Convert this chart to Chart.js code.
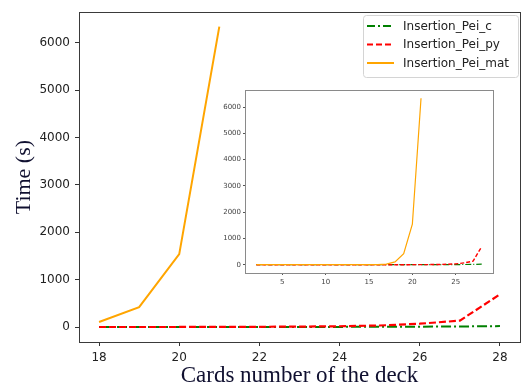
<!DOCTYPE html>
<html>
<head>
<meta charset="utf-8">
<script src="https://cdn.jsdelivr.net/npm/chart.js@4/dist/chart.umd.min.js"></script>
<style>
  html, body { margin: 0; padding: 0; background: #fff; }
  #wrap { position: relative; width: 521px; height: 387px; overflow: hidden; }
  #main { position: absolute; left: 0; top: 0; }
  #inset { position: absolute; left: 218px; top: 84px; }
</style>
</head>
<body>
<div id="wrap">
  <canvas id="main" width="521" height="387"></canvas>
  <canvas id="inset" width="280" height="206"></canvas>
</div>
<script>
// Deck sizes and measured running times (seconds)
const cards   = [2, 3, 4, 5, 6, 7, 8, 9, 10, 11, 12, 13, 14, 15, 16, 17, 18, 19, 20, 21, 22, 23, 24, 25, 26, 27, 28];
const timeC   = [0, 0, 0, 0, 0, 0, 0, 0, 0, 0, 0, 0, 0, 0, 0, 0, 0.1, 0.2, 0.4, 0.7, 1.2, 2, 3, 5, 8, 12, 20];
const timePy  = [0, 0, 0, 0, 0, 0, 0, 0, 0, 0, 0, 0, 0, 0, 0, 0, 0.3, 0.6, 1.2, 2.4, 5, 9, 16, 32, 70, 135, 690];
const timeMat = [0, 0, 0, 0, 0, 0, 0, 0, 0, 0, 0, 0, 0, 0, 0, 25, 105, 420, 1540, 6340];

const seriesNames = ['Insertion_Pei_c', 'Insertion_Pei_py', 'Insertion_Pei_mat'];
const mainTicksX  = [18, 20, 22, 24, 26, 28];
const insetTicksX = [5, 10, 15, 20, 25];
const ticksY      = [0, 1000, 2000, 3000, 4000, 5000, 6000];

const xLabel = 'Cards number of the deck';
const yLabel = 'Time (s)';

const GREEN = '#008000', RED = '#ff0000', ORANGE = '#ffa500';

function points(values, minX) {
  const out = [];
  values.forEach((v, i) => { if (cards[i] >= minX) out.push({ x: cards[i], y: v }); });
  return out;
}

function makeDatasets(minX, lw, dashPy, dashC) {
  return [
    { label: seriesNames[0], data: points(timeC, minX),  borderColor: GREEN,  borderWidth: lw, borderDash: dashC,  order: 3 },
    { label: seriesNames[1], data: points(timePy, minX), borderColor: RED,    borderWidth: lw + 0.2, borderDash: dashPy, order: 2 },
    { label: seriesNames[2], data: points(timeMat, minX), borderColor: ORANGE, borderWidth: lw, borderDash: [], order: 1 }
  ].map(d => Object.assign(d, { pointRadius: 0, tension: 0, fill: false }));
}

// Frame around the plotting area (all four spines)
const framePlugin = {
  id: 'frame',
  beforeDraw(chart, args, opts) {
    const a = chart.chartArea, ctx = chart.ctx;
    if (opts.fill) {
      ctx.save(); ctx.fillStyle = opts.fill;
      ctx.fillRect(a.left, a.top, a.right - a.left, a.bottom - a.top);
      ctx.restore();
    }
  },
  afterDraw(chart, args, opts) {
    const a = chart.chartArea, ctx = chart.ctx;
    ctx.save();
    ctx.strokeStyle = opts.color;
    ctx.lineWidth = opts.width;
    ctx.strokeRect(Math.round(a.left) + 0.5, Math.round(a.top) + 0.5,
                   Math.round(a.right - a.left), Math.round(a.bottom - a.top));
    ctx.restore();
  }
};

// Boxed legend in the upper right corner, built from the datasets
const boxLegendPlugin = {
  id: 'boxLegend',
  afterDraw(chart, args, opts) {
    if (!opts.display) return;
    const ctx = chart.ctx;
    const x = opts.x, y = opts.y, w = opts.w, h = opts.h, r = 3;
    ctx.save();
    ctx.beginPath();
    ctx.roundRect(x + 0.5, y + 0.5, w, h, r);
    ctx.fillStyle = 'rgba(255,255,255,0.85)';
    ctx.fill();
    ctx.strokeStyle = '#d4d4d4';
    ctx.lineWidth = 1;
    ctx.stroke();
    ctx.font = '12px "DejaVu Sans"';
    ctx.textBaseline = 'middle';
    ctx.fillStyle = '#222';
    chart.data.datasets.forEach((ds, i) => {
      const ry = y + opts.firstRow + i * opts.rowGap;
      ctx.beginPath();
      ctx.setLineDash(ds.legendDash || ds.borderDash || []);
      ctx.strokeStyle = ds.borderColor;
      ctx.lineWidth = 2;
      ctx.moveTo(x + 4, ry);
      ctx.lineTo(x + 31, ry);
      ctx.stroke();
      ctx.setLineDash([]);
      ctx.fillText(ds.label, x + 40, ry + 0.5);
    });
    ctx.restore();
  }
};

Chart.register(framePlugin, boxLegendPlugin);

function fixedTicks(values) {
  return scale => { scale.ticks = values.map(v => ({ value: v })); };
}
const plainNumber = v => String(v);

// Main chart: decks of 18 to 28 cards
const mainSets = makeDatasets(18, 2, [7, 3], [10, 3, 2, 3]);
mainSets[0].legendDash = [8, 3, 2, 3];
mainSets[1].legendDash = [6, 3];

new Chart(document.getElementById('main'), {
  type: 'line',
  data: { datasets: mainSets },
  options: {
    responsive: false,
    animation: false,
    devicePixelRatio: 1,
    layout: { padding: { left: 0, top: 10, right: 1, bottom: 0 } },
    plugins: {
      legend: { display: false },
      tooltip: { enabled: false },
      frame: { color: '#3a3a3a', width: 1 },
      boxLegend: { display: true, x: 363, y: 15, w: 155, h: 62, firstRow: 11, rowGap: 18.5 }
    },
    scales: {
      x: {
        type: 'linear', min: 17.5, max: 28.5,
        afterBuildTicks: fixedTicks(mainTicksX),
        afterFit: s => { s.height = 45; },
        border: { display: false },
        grid: { drawOnChartArea: false, drawTicks: true, tickLength: 4, tickColor: '#333', tickWidth: 1 },
        ticks: { color: '#222', font: { family: 'DejaVu Sans', size: 12 }, padding: 5, maxRotation: 0, callback: plainNumber },
        title: { display: true, text: xLabel, color: '#101030',
                 font: { family: 'Liberation Serif', size: 23, lineHeight: 1 }, padding: { top: 0, bottom: 0 } }
      },
      y: {
        type: 'linear', min: -316, max: 6646,
        afterBuildTicks: fixedTicks(ticksY),
        afterFit: s => { s.width = 79; },
        border: { display: false },
        grid: { drawOnChartArea: false, drawTicks: true, tickLength: 4, tickColor: '#333', tickWidth: 1 },
        ticks: { color: '#222', font: { family: 'DejaVu Sans', size: 12 }, padding: 5, callback: plainNumber },
        title: { display: true, text: yLabel, color: '#101030',
                 font: { family: 'Liberation Serif', size: 22, lineHeight: 1 }, padding: { top: 13.5, bottom: 0 } }
      }
    }
  }
});

// Inset chart: the full range of deck sizes
new Chart(document.getElementById('inset'), {
  type: 'line',
  data: { datasets: makeDatasets(2, 1.2, [4, 2], [6, 2, 1, 2]) },
  options: {
    responsive: false,
    animation: false,
    devicePixelRatio: 1,
    layout: { padding: { left: 0, top: 4, right: 5, bottom: 0 } },
    plugins: {
      legend: { display: false },
      tooltip: { enabled: false },
      frame: { color: '#8a8a8a', width: 1, fill: '#ffffff' },
      boxLegend: { display: false }
    },
    scales: {
      x: {
        type: 'linear', min: 0.7, max: 29.3,
        afterBuildTicks: fixedTicks(insetTicksX),
        afterFit: s => { s.height = 17; },
        border: { display: false },
        grid: { drawOnChartArea: false, drawTicks: true, tickLength: 2, tickColor: '#555', tickWidth: 1 },
        ticks: { color: '#444', font: { family: 'DejaVu Sans', size: 7 }, padding: 2.5, maxRotation: 0, callback: plainNumber }
      },
      y: {
        type: 'linear', min: -316, max: 6646,
        afterBuildTicks: fixedTicks(ticksY),
        afterFit: s => { s.width = 27; },
        border: { display: false },
        grid: { drawOnChartArea: false, drawTicks: true, tickLength: 2, tickColor: '#555', tickWidth: 1 },
        ticks: { color: '#444', font: { family: 'DejaVu Sans', size: 7 }, padding: 2, callback: plainNumber }
      }
    }
  }
});
</script>
</body>
</html>
